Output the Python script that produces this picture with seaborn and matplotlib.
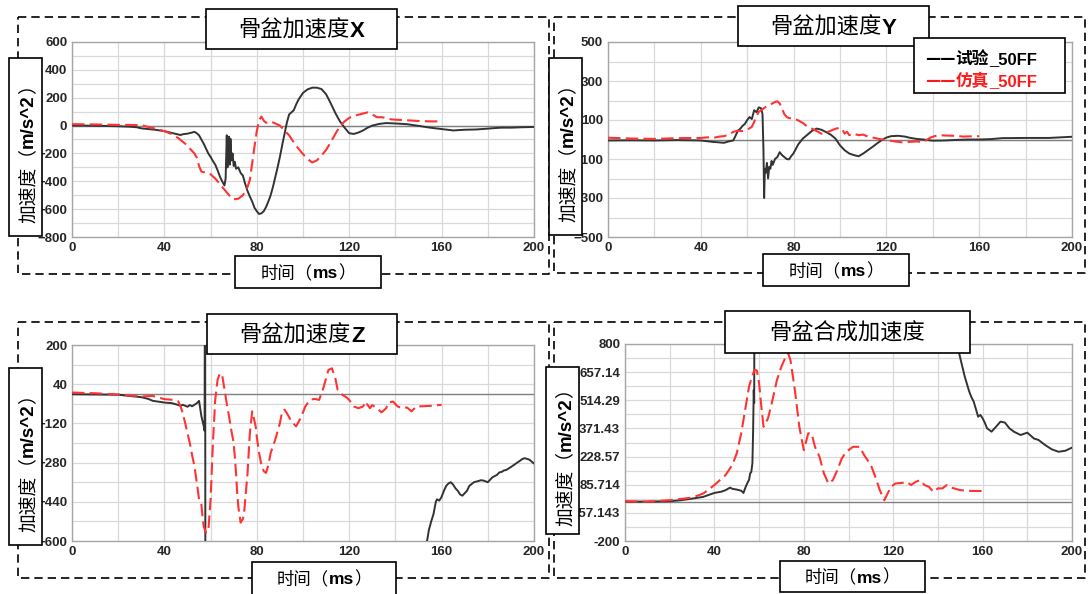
import matplotlib
matplotlib.use("Agg")
import matplotlib.pyplot as plt
import numpy as np
import pandas as pd
import seaborn as sns
from matplotlib.patches import Rectangle
from matplotlib.lines import Line2D
from matplotlib.ticker import MultipleLocator, FixedLocator

# ---------------- data (time in ms, acceleration in m/s^2) ----------------
x_test_t = [0, 5, 10, 15, 20, 25, 28, 30, 33, 36, 40, 43, 45, 47, 48, 50, 52, 53, 54, 55, 56, 57, 58, 59,
            60, 61, 62, 63, 64, 65, 66, 66.5, 67, 67.3, 67.6, 68, 68.3, 68.6, 69, 69.5, 70, 70.5, 71, 72,
            73, 74, 75, 76, 77, 78, 79, 80, 81, 82, 83, 84, 85, 86, 87, 88, 89, 90, 91, 92, 93, 94, 95,
            96, 97, 98, 100, 102, 104, 106, 108, 110, 112, 114, 116, 118, 120, 122, 124, 126, 128, 130,
            133, 136, 140, 145, 150, 155, 160, 165, 170, 175, 180, 183, 186, 190, 195, 200]
x_test_a = [0, 0, -2, -3, -5, -8, -12, -20, -25, -30, -40, -52, -60, -68, -62, -58, -50, -45, -55, -70,
            -100, -130, -165, -200, -225, -255, -280, -320, -365, -400, -430, -380, -70, -300, -150, -80,
            -280, -95, -250, -200, -290, -260, -310, -300, -340, -360, -420, -470, -510, -545, -590, -615,
            -635, -630, -615, -585, -545, -500, -440, -370, -300, -225, -140, -60, 20, 80, 95, 110, 150,
            185, 235, 260, 272, 272, 262, 225, 160, 90, 30, -15, -55, -60, -50, -35, -15, 0, 12, 18, 15,
            10, -2, -15, -25, -35, -30, -28, -22, -18, -15, -15, -12, -10]
x_sim_t = [0, 10, 20, 25, 30, 33, 36, 40, 43, 46, 49, 51, 53, 54, 55, 56, 57, 58, 60, 62, 64, 66, 68, 70,
           72, 74, 75, 76, 77, 78, 79, 80, 81, 82, 83, 84, 86, 88, 90, 92, 94, 96, 98, 100, 102, 104, 106,
           108, 110, 112, 114, 116, 118, 120, 122, 125, 128, 130, 132, 134, 136, 138, 140, 143, 146, 150,
           155, 160]
x_sim_a = [10, 8, 5, 5, 3, -10, -22, -40, -60, -90, -130, -165, -200, -230, -290, -330, -335, -335, -350,
           -380, -420, -460, -500, -530, -525, -500, -470, -440, -390, -270, -150, -40, 40, 65, 35, 20, 30,
           15, 0, -35, -70, -120, -165, -205, -240, -265, -250, -215, -175, -120, -60, -5, 30, 55, 70, 82,
           95, 80, 60, 60, 55, 45, 42, 40, 37, 33, 30, 30]

y_test_t = [0, 10, 20, 30, 40, 45, 48, 50, 52, 54, 55, 56, 57, 58, 59, 60, 61, 62, 63, 64, 65, 66, 66.6,
            67.0, 67.3, 67.6, 68, 68.5, 69, 69.5, 70, 70.5, 71, 72, 73, 74, 75, 76, 77, 78, 79, 80, 82, 84,
            86, 88, 90, 92, 94, 96, 98, 100, 102, 104, 106, 108, 110, 112, 114, 116, 118, 120, 122, 125,
            128, 130, 133, 136, 140, 145, 150, 155, 160, 165, 170, 180, 190, 200]
y_test_a = [-5, -4, -5, -3, -5, -12, -15, -17, -10, -5, 20, 45, 55, 70, 80, 100, 115, 105, 150, 140, 165,
            160, 130, -50, -300, -150, -170, -120, -200, -140, -150, -110, -130, -100, -90, -65, -80, -90,
            -100, -102, -85, -70, -25, 5, 25, 45, 56, 50, 38, 25, 5, -30, -55, -72, -80, -86, -72, -55, -38,
            -20, -3, 10, 17, 19, 15, 9, 3, 0, -6, -5, -2, 0, 0, 2, 7, 8, 8, 14]
y_sim_t = [0, 10, 20, 30, 40, 44, 46, 48, 50, 52, 54, 56, 58, 60, 62, 63, 64, 65, 66, 68, 70, 72, 73, 74,
           75, 76, 77, 78, 80, 82, 84, 86, 88, 90, 92, 93, 94, 96, 98, 100, 101, 102, 103, 104, 106, 108,
           110, 112, 114, 116, 118, 120, 122, 125, 127, 130, 133, 135, 137, 139, 141, 143, 146, 150, 153,
           156, 160]
y_sim_a = [9, 5, 3, 7, 8, 12, 10, 15, 17, 25, 39, 45, 43, 50, 65, 90, 120, 142, 150, 167, 180, 192, 196,
           185, 159, 130, 116, 110, 107, 98, 85, 65, 55, 43, 30, 27, 35, 45, 55, 60, 52, 30, 40, 22, 30, 22,
           25, 15, 10, 5, 0, -3, -7, -12, -15, -12, -10, -12, -5, 10, 18, 22, 20, 19, 15, 16, 17]

z_test_t = [0, 10, 20, 25, 30, 33, 35, 38, 40, 43, 45, 47, 48, 50, 51, 52, 53, 54, 55, 56, 57, 57.4, 57.6,
            57.8, 80, 120, 150, 152.5, 153.7, 154.5, 155.5, 156.5, 157.5, 158, 159, 160, 161, 162, 163, 164,
            165, 166, 167, 168, 169, 170, 171, 172, 174, 176, 177, 178, 180, 181, 182, 183, 184, 185, 186,
            187, 188, 190, 192, 194, 195, 196, 198, 200]
z_test_a = [-1, -2, -3, -8, -13, -20, -28, -32, -35, -37, -42, -48, -44, -52, -45, -50, -44, -38, -28, -90,
            -130, -150, 900, -1500, -1500, -1400, -900, -700, -600, -555, -520, -490, -440, -430, -435, -420,
            -395, -375, -365, -360, -370, -385, -395, -410, -415, -405, -395, -375, -360, -355, -352, -353,
            -360, -350, -340, -335, -330, -320, -318, -312, -310, -298, -285, -272, -265, -262, -268, -284]
z_sim_t = [0, 10, 20, 30, 35, 40, 44, 46, 47, 48, 49, 50, 51, 52, 53, 54, 55, 56, 56.5, 57, 58, 59, 60, 61,
           62, 63, 64, 65, 66, 67, 68, 69, 70, 71, 71.5, 72, 73, 74, 74.5, 75, 76, 77, 78, 79, 79.5, 80, 81,
           82, 83, 84, 85, 86, 88, 90, 91, 92, 93, 95, 97, 99, 101, 103, 105, 107, 109, 111, 112.5, 114, 115,
           117, 119, 120, 122, 124, 126, 127, 128, 129, 130, 132, 134, 136, 137, 139, 141, 143, 145, 147,
           149, 152, 156, 160]
z_sim_a = [6, 3, -2, -10, -8, -21, -24, -30, -51, -80, -119, -160, -200, -250, -295, -360, -430, -450, -500,
           -540, -566, -560, -430, -200, -24, 57, 84, 78, 20, -40, -92, -150, -200, -320, -403, -460, -525,
           -510, -485, -430, -322, -160, -71, -110, -132, -175, -241, -290, -315, -322, -290, -241, -186,
           -119, -70, -64, -78, -112, -132, -98, -51, -24, -20, -24, 30, 98, 105, 64, 17, -3, -15, -24, -51,
           -58, -51, -31, -45, -58, -45, -58, -75, -58, -35, -31, -51, -58, -55, -71, -51, -50, -48, -44]

r_test_t = [0, 10, 20, 25, 30, 35, 40, 43, 45, 47, 48, 50, 52, 53, 54, 55, 55.5, 56, 56.5, 57, 57.3, 57.6,
            57.8, 58, 100, 140, 147, 148.6, 150, 152, 154, 155, 156, 157, 158, 159, 160, 161, 162, 164, 166,
            168, 170, 172, 174, 177, 180, 182, 183, 185, 188, 191, 194, 197, 200]
r_test_a = [0, 0, 2, 7, 15, 24, 44, 50, 58, 71, 65, 61, 55, 44, 75, 100, 110, 143, 150, 194, 347, 567, 500,
            1500, 1800, 1500, 1000, 800, 729, 635, 559, 530, 508, 470, 431, 440, 423, 400, 372, 355, 380,
            406, 401, 372, 355, 338, 350, 330, 320, 313, 287, 265, 253, 258, 274]
r_sim_t = [0, 10, 20, 30, 35, 40, 45, 48, 50, 52, 54, 55.5, 57, 58, 59, 60, 61, 62, 64, 66, 68, 70, 72, 73,
           74, 76, 78, 80, 82, 83.5, 85, 87, 89, 91, 93, 95, 97, 99, 102, 105, 107, 110, 112, 114, 116,
           117.5, 119, 121, 124, 126, 128, 130, 132, 134, 136, 138, 140, 142, 144, 146, 150, 155, 160]
r_sim_a = [2, 0, 7, 20, 41, 84, 135, 186, 245, 347, 482, 584, 640, 669, 665, 601, 482, 380, 423, 516, 618,
           686, 737, 754, 720, 567, 380, 261, 347, 345, 278, 228, 143, 92, 109, 160, 219, 253, 278, 278, 236,
           186, 126, 58, 7, 41, 75, 92, 95, 100, 84, 100, 109, 84, 75, 49, 67, 67, 84, 71, 58, 54, 54]

x_ticks = [0, 40, 80, 120, 160, 200]
titles = [("骨盆加速度", "X"), ("骨盆加速度", "Y"), ("骨盆加速度", "Z"), ("骨盆合成加速度", "")]
y_ticks_x = [-800, -600, -400, -200, 0, 200, 400, 600]
y_ticks_y = [-500, -300, -100, 100, 300, 500]
y_ticks_z = [-600, -440, -280, -120, 40, 200]
y_ticks_r = [-200 + i * 1000 / 7 for i in range(8)]
y_labels_r = ["-200", "-57.143", "85.714", "228.57", "371.43", "514.29", "657.14", "800"]
legend_names = ["试验_50FF", "仿真_50FF"]

# ---------------- styling ----------------
sns.set_style("white")
CJK = ["Noto Sans CJK SC", "DejaVu Sans"]
LAT = ["Liberation Sans", "DejaVu Sans"]
plt.rcParams["font.family"] = CJK
BLACK = "#333333"
RED = "#ff3333"
W, H = 1088, 594

fig = plt.figure(figsize=(W / 100, H / 100), dpi=100)
fig.patch.set_facecolor("white")


def fx(x):
    return x / W


def fy(y):
    return 1 - y / H


def axes_at(x0, y0, x1, y1):
    return fig.add_axes([fx(x0), fy(y1), (x1 - x0) / W, (y1 - y0) / H])


def draw_panel(box, t_test, a_test, t_sim, a_sim, ylim, yticks, yminor, ylabels=None):
    ax = axes_at(*box)
    df_test = pd.DataFrame({"t": t_test, "a": a_test})
    df_sim = pd.DataFrame({"t": t_sim, "a": a_sim})
    ax.axhline(0, color="#7f7f7f", lw=1.0, zorder=1.5)
    sns.lineplot(data=df_test, x="t", y="a", ax=ax, color=BLACK, lw=1.4,
                 estimator=None, sort=False, zorder=3)
    sns.lineplot(data=df_sim, x="t", y="a", ax=ax, color=RED, lw=1.5,
                 linestyle=(0, (6, 2.5)), estimator=None, sort=False, zorder=4)
    ax.set_xlim(0, 200)
    ax.set_ylim(*ylim)
    ax.xaxis.set_major_locator(FixedLocator(x_ticks))
    ax.xaxis.set_minor_locator(MultipleLocator(20))
    ax.yaxis.set_major_locator(FixedLocator(yticks))
    ax.yaxis.set_minor_locator(FixedLocator(yminor))
    if ylabels is not None:
        ax.set_yticklabels(ylabels)
    ax.grid(which="both", color="#d9d9d9", lw=0.9)
    ax.set_axisbelow(True)
    ax.tick_params(which="both", length=0, pad=3.5, labelsize=9.5, labelcolor="#262626")
    for lbl in ax.get_xticklabels() + ax.get_yticklabels():
        lbl.set_fontfamily(LAT)
        lbl.set_fontweight("bold")
    for sp in ax.spines.values():
        sp.set_color("#a6a6a6")
        sp.set_linewidth(1.0)
    ax.set_xlabel("")
    ax.set_ylabel("")
    return ax


draw_panel((72, 42, 534, 237), x_test_t, x_test_a, x_sim_t, x_sim_a, (-800, 600),
           y_ticks_x, np.arange(-800, 601, 100))
draw_panel((608, 42, 1072, 237), y_test_t, y_test_a, y_sim_t, y_sim_a, (-500, 500),
           y_ticks_y, np.arange(-500, 501, 100))
draw_panel((72, 345, 534, 541), z_test_t, z_test_a, z_sim_t, z_sim_a, (-600, 200),
           y_ticks_z, np.arange(-600, 201, 80))
draw_panel((625, 344, 1072, 541), r_test_t, r_test_a, r_sim_t, r_sim_a, (-200, 800),
           y_ticks_r, [-200 + i * 500 / 7 for i in range(15)], y_labels_r)


# ---------------- frames and label boxes ----------------
def dashed_frame(x0, y0, x1, y1):
    xs = [x0, x1, x1, x0, x0]
    ys = [y0, y0, y1, y1, y0]
    fig.add_artist(Line2D([fx(v) for v in xs], [fy(v) for v in ys], color="black", lw=1.2,
                          linestyle=(0, (5, 3)), zorder=1, transform=fig.transFigure))


def box(x0, y0, x1, y1):
    fig.add_artist(Rectangle((fx(x0), fy(y1)), (x1 - x0) / W, (y1 - y0) / H, facecolor="white",
                             edgecolor="black", lw=1.2, zorder=2, transform=fig.transFigure))


renderer = fig.canvas.get_renderer()


def rich(segs, cx, cy, size, rot=0):
    """segs: (text, font kind, weight, colour); centred on (cx, cy) in pixels."""
    objs = []
    for s, kind, wt, col in segs:
        t = fig.text(0, 0, s, fontsize=size, family=CJK if kind == "cjk" else LAT, weight=wt,
                     color=col, zorder=5, ha="left", va="baseline")
        objs.append(t)
    lens = [t.get_window_extent(renderer).width for t in objs]
    total = sum(lens)
    off = size * 100 / 72 * 0.36
    pos = 0.0
    for t, L in zip(objs, lens):
        if rot == 0:
            t.set_position((fx(cx - total / 2 + pos), fy(cy + off)))
        else:
            t.set_rotation(90)
            t.set_rotation_mode("anchor")
            t.set_position((fx(cx + off), fy(cy + total / 2 - pos)))
        pos += L


dashed_frame(17.5, 17, 549, 274)
dashed_frame(553.5, 17, 1085, 273)
dashed_frame(17.5, 322, 549, 578)
dashed_frame(553.5, 322, 1085, 578)

title_boxes = [(206, 9, 397, 49), (738, 6, 929, 46), (207, 314, 397, 354), (725, 311, 970, 353)]
ylabel_boxes = [(9, 58, 42, 236), (549, 58, 582, 235), (9, 368, 42, 545), (546, 367, 579, 534)]
xlabel_boxes = [(235, 256, 381, 288), (763, 254, 909, 286), (252, 562, 396, 600), (780, 561, 925, 592)]

for (cjk, lat), tb, yb, xb in zip(titles, title_boxes, ylabel_boxes, xlabel_boxes):
    box(*tb)
    segs = [(cjk, "cjk", "normal", "black")]
    if lat:
        segs.append((lat, "lat", "bold", "black"))
    rich(segs, (tb[0] + tb[2]) / 2, (tb[1] + tb[3]) / 2, 16)
    box(*yb)
    rich([("加速度（", "cjk", "normal", "black"), ("m/s^2", "lat", "bold", "black"),
          ("）", "cjk", "normal", "black")], (yb[0] + yb[2]) / 2 + 1, (yb[1] + yb[3]) / 2 + 2, 13.5, rot=90)
    box(*xb)
    cy = (xb[1] + xb[3]) / 2 if xb[3] <= 594 else xb[1] + 16
    rich([("时间（", "cjk", "normal", "black"), ("ms", "lat", "bold", "black"),
          ("）", "cjk", "normal", "black")], (xb[0] + xb[2]) / 2, cy, 12.5)

# legend
box(914, 38, 1065, 93)
for (name, col, cy) in [(legend_names[0], "black", 58), (legend_names[1], "#ff1a1a", 80)]:
    cjk_part, lat_part = name.split("_", 1)
    rich([("——", "cjk", "bold", col), (cjk_part, "cjk", "bold", col), ("_" + lat_part, "lat", "bold", col)],
         981, cy, 12)

fig.savefig("out.png", dpi=100, facecolor="white")
